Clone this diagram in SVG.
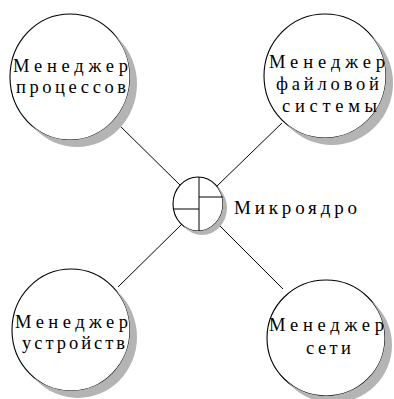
<svg xmlns="http://www.w3.org/2000/svg" width="394" height="399" viewBox="0 0 394 399">
<style>
.sh{fill:#b4b4b4;stroke:none}
.nd{fill:#fff;stroke:#000;stroke-width:1.1}
.ln{stroke:#000;stroke-width:1;fill:none}
.t{font-family:"Liberation Serif","Times New Roman",serif;font-size:18.5px;fill:#000}
</style>
<defs>
<mask id="mTL"><rect width="394" height="399" fill="#fff"/><ellipse cx="70" cy="77" rx="60" ry="63" fill="#000"/></mask>
<mask id="mTR"><rect width="394" height="399" fill="#fff"/><ellipse cx="325" cy="76" rx="61" ry="62" fill="#000"/></mask>
<mask id="mBL"><rect width="394" height="399" fill="#fff"/><ellipse cx="71" cy="330" rx="59" ry="61" fill="#000"/></mask>
<mask id="mBR"><rect width="394" height="399" fill="#fff"/><ellipse cx="326" cy="338" rx="59" ry="58" fill="#000"/></mask>
<mask id="mK"><rect width="394" height="399" fill="#fff"/><ellipse cx="198" cy="204" rx="25" ry="27" fill="#000"/></mask>
</defs>
<rect x="0" y="0" width="394" height="399" fill="#ffffff"/>
<g id="connectors">
<line class="ln" x1="117" y1="123" x2="181" y2="186"/>
<line class="ln" x1="282" y1="123" x2="217" y2="186"/>
<line class="ln" x1="118" y1="287" x2="182" y2="224"/>
<line class="ln" x1="283" y1="289" x2="217" y2="223"/>
</g>
<g id="n-processes">
<ellipse class="nd" cx="70" cy="77" rx="60" ry="63"/>
<ellipse class="sh" cx="77" cy="84" rx="60" ry="63" mask="url(#mTL)"/>
<text class="t" x="13" y="72" textLength="115" lengthAdjust="spacing">Менеджер</text>
<text class="t" x="16" y="93" textLength="110" lengthAdjust="spacing">процессов</text>
</g>
<g id="n-files">
<ellipse class="nd" cx="325" cy="76" rx="61" ry="62"/>
<ellipse class="sh" cx="332" cy="83" rx="61" ry="62" mask="url(#mTR)"/>
<text class="t" x="269" y="68" textLength="116" lengthAdjust="spacing">Менеджер</text>
<text class="t" x="276" y="90" textLength="103" lengthAdjust="spacing">файловой</text>
<text class="t" x="282" y="112" textLength="95" lengthAdjust="spacing">системы</text>
</g>
<g id="n-devices">
<ellipse class="nd" cx="71" cy="330" rx="59" ry="61"/>
<ellipse class="sh" cx="78" cy="337" rx="59" ry="61" mask="url(#mBL)"/>
<text class="t" x="15" y="328" textLength="113" lengthAdjust="spacing">Менеджер</text>
<text class="t" x="22" y="349" textLength="103" lengthAdjust="spacing">устройств</text>
</g>
<g id="n-network">
<ellipse class="nd" cx="326" cy="338" rx="59" ry="58"/>
<ellipse class="sh" cx="333" cy="345" rx="59" ry="58" mask="url(#mBR)"/>
<text class="t" x="269" y="331" textLength="115" lengthAdjust="spacing">Менеджер</text>
<text class="t" x="306" y="354" textLength="45" lengthAdjust="spacing">сети</text>
</g>
<g id="n-kernel">
<ellipse class="nd" cx="198" cy="204" rx="25" ry="27"/>
<ellipse class="sh" cx="202" cy="208" rx="25" ry="27" mask="url(#mK)"/>
<line class="ln" x1="199" y1="177" x2="199" y2="231"/>
<line class="ln" x1="173" y1="209" x2="199" y2="209"/>
<line class="ln" x1="199" y1="197" x2="223" y2="197"/>
<text class="t" x="234" y="214" textLength="123" lengthAdjust="spacing" style="font-size:19px">Микроядро</text>
</g>
</svg>
